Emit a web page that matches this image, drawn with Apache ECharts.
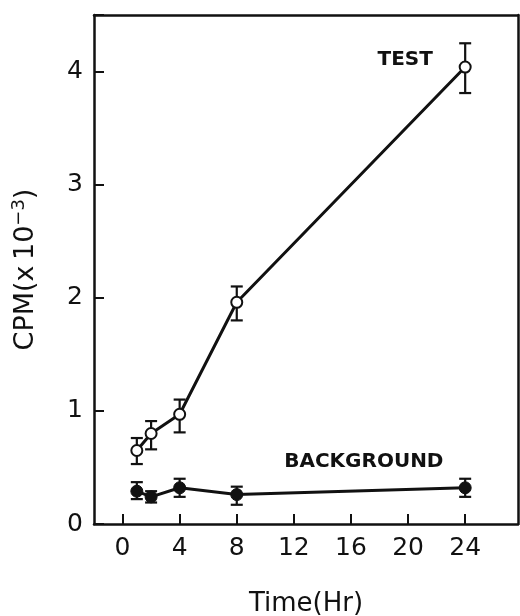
<!DOCTYPE html>
<html>
<head>
<meta charset="utf-8">
<script src="https://cdn.jsdelivr.net/npm/echarts@6/dist/echarts.min.js"></script>
<style>
  html, body { margin: 0; padding: 0; background: #fff; }
  #chart { width: 520px; height: 616px; }
</style>
</head>
<body>
<div id="chart"></div>
<script>
// time points (hr)
var hours = [1, 2, 4, 8, 24];

// TEST series: mean, low, high (CPM x10^-3)
var testMean = [0.65, 0.80, 0.97, 1.96, 4.04];
var testLow  = [0.53, 0.66, 0.81, 1.80, 3.81];
var testHigh = [0.76, 0.91, 1.10, 2.10, 4.25];

// BACKGROUND series
var bgMean = [0.29, 0.24, 0.32, 0.26, 0.32];
var bgLow  = [0.22, 0.19, 0.24, 0.17, 0.24];
var bgHigh = [0.37, 0.29, 0.40, 0.33, 0.40];

var xTicks = [0, 4, 8, 12, 16, 20, 24];
var yTicks = [0, 1, 2, 3, 4];

var FONT = '"DejaVu Sans", sans-serif';

function pairs(xs, ys) {
    return xs.map(function (x, i) { return [x, ys[i]]; });
}
function bars(xs, lo, hi) {
    return xs.map(function (x, i) { return [x, lo[i], hi[i]]; });
}

// vertical error bar with caps
function renderErrorBar(params, api) {
    var x = api.value(0);
    var lo = api.coord([x, api.value(1)]);
    var hi = api.coord([x, api.value(2)]);
    var w = 6;
    var style = { stroke: '#111', lineWidth: 2.2 };
    return {
        type: 'group',
        children: [
            { type: 'line', shape: { x1: lo[0], y1: lo[1], x2: hi[0], y2: hi[1] }, style: style },
            { type: 'line', shape: { x1: lo[0] - w, y1: lo[1], x2: lo[0] + w, y2: lo[1] }, style: style },
            { type: 'line', shape: { x1: hi[0] - w, y1: hi[1], x2: hi[0] + w, y2: hi[1] }, style: style }
        ]
    };
}

var dom = document.getElementById('chart');
var myChart = echarts.init(dom, null, { renderer: 'canvas' });

var option = {
    animation: false,
    backgroundColor: '#fff',
    grid: { left: 94, right: 2, top: 15, bottom: 92, outerBoundsMode: 'none', containLabel: false },
    xAxis: [
        {
            type: 'value',
            min: -2,
            max: 27.7,
            interval: 4,
            name: 'Time(Hr)',
            nameLocation: 'middle',
            nameGap: 67,
            nameTextStyle: { fontFamily: FONT, fontSize: 26, color: '#111' },
            axisLine: { onZero: false, lineStyle: { color: '#111', width: 2.5 } },
            axisTick: { inside: true, length: 10, lineStyle: { color: '#111', width: 2 },
                customValues: xTicks },
            axisLabel: { fontFamily: FONT, fontSize: 25, color: '#111', margin: 12,
                customValues: xTicks },
            splitLine: { show: false }
        },
        {
            type: 'value',
            position: 'top',
            min: -2,
            max: 27.7,
            axisLine: { show: true, onZero: false, lineStyle: { color: '#111', width: 2.5 } },
            axisTick: { show: false },
            axisLabel: { show: false },
            splitLine: { show: false }
        }
    ],
    yAxis: [
        {
            type: 'value',
            min: 0,
            max: 4.5,
            interval: 1,
            name: 'CPM(x\u200910{sup|\u22123})',
            nameLocation: 'middle',
            nameGap: 52,
            nameTextStyle: {
                fontFamily: FONT, fontSize: 27, color: '#111',
                rich: { sup: { fontFamily: FONT, fontSize: 18, color: '#111', verticalAlign: 'top', padding: [0, 0, 14, 0] } }
            },
            axisLine: { show: true, onZero: false, lineStyle: { color: '#111', width: 2.5 } },
            axisTick: { inside: true, length: 10, lineStyle: { color: '#111', width: 2 } },
            axisLabel: { fontFamily: FONT, fontSize: 25, color: '#111', margin: 11,
                customValues: yTicks },
            splitLine: { show: false }
        },
        {
            type: 'value',
            position: 'right',
            min: 0,
            max: 4.5,
            axisLine: { show: true, onZero: false, lineStyle: { color: '#111', width: 2.5 } },
            axisTick: { show: false },
            axisLabel: { show: false },
            splitLine: { show: false }
        }
    ],
    series: [
        {
            name: 'TEST err',
            type: 'custom',
            renderItem: renderErrorBar,
            data: bars(hours, testLow, testHigh),
            z: 2
        },
        {
            name: 'BACKGROUND err',
            type: 'custom',
            renderItem: renderErrorBar,
            data: bars(hours, bgLow, bgHigh),
            z: 2
        },
        {
            name: 'TEST',
            type: 'line',
            data: pairs(hours, testMean),
            symbol: 'circle',
            symbolSize: 11,
            showAllSymbol: true,
            lineStyle: { color: '#111', width: 3 },
            itemStyle: { color: '#fff', borderColor: '#111', borderWidth: 2 },
            z: 3,
            markPoint: {
                symbol: 'circle',
                symbolSize: 0,
                silent: true,
                data: [{ coord: [19.8, 4.1], value: 'TEST' }],
                label: { show: true, formatter: 'TEST', fontFamily: FONT, fontWeight: 'bold',
                    fontSize: 20, color: '#111', position: 'inside' }
            }
        },
        {
            name: 'BACKGROUND',
            type: 'line',
            data: pairs(hours, bgMean),
            symbol: 'circle',
            symbolSize: 12,
            showAllSymbol: true,
            lineStyle: { color: '#111', width: 3 },
            itemStyle: { color: '#111', borderColor: '#111', borderWidth: 1 },
            z: 3,
            markPoint: {
                symbol: 'circle',
                symbolSize: 0,
                silent: true,
                data: [{ coord: [16.9, 0.55], value: 'BACKGROUND' }],
                label: { show: true, formatter: 'BACKGROUND', fontFamily: FONT, fontWeight: 'bold',
                    fontSize: 20, color: '#111', position: 'inside' }
            }
        }
    ]
};

myChart.setOption(option);
</script>
</body>
</html>
